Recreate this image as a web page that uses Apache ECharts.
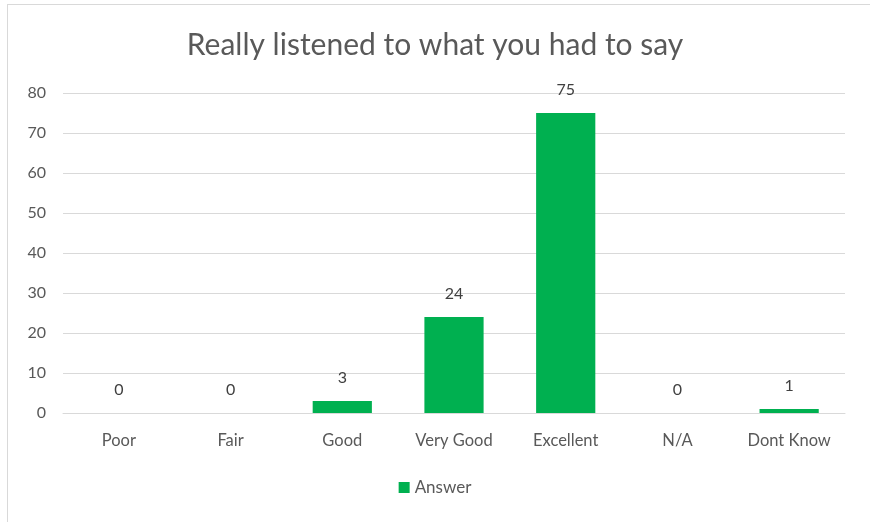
<!DOCTYPE html>
<html>
<head>
<meta charset="utf-8">
<script src="https://cdn.jsdelivr.net/npm/echarts@6/dist/echarts.min.js"></script>
<style>
html,body{margin:0;padding:0;background:#fff;}
#frame{position:absolute;left:7px;top:4px;width:880px;height:540px;border:1px solid #d9d9d9;box-sizing:border-box;}
#chart{position:absolute;left:0;top:0;width:870px;height:522px;}
</style>
</head>
<body>
<div id="frame"></div>
<div id="chart"></div>
<script>
// 数据
var categories = ['Poor', 'Fair', 'Good', 'Very Good', 'Excellent', 'N/A', 'Dont Know'];
var answerValues = [0, 0, 3, 24, 75, 0, 1];
var yTicks = [0, 10, 20, 30, 40, 50, 60, 70, 80];

var chart = echarts.init(document.getElementById('chart'));
chart.setOption({
  animation: false,
  textStyle: { fontFamily: 'Lato', color: '#595959' },
  title: {
    text: 'Really listened to what you had to say',
    left: 'center',
    top: 25,
    textStyle: { fontFamily: 'Lato', fontSize: 30, fontWeight: 'normal', color: '#595959' }
  },
  grid: { left: 63, right: 25, top: 93, bottom: 109 },
  legend: {
    bottom: 21,
    left: 'center',
    icon: 'rect',
    itemWidth: 11,
    itemHeight: 11,
    itemGap: 6,
    textStyle: { fontFamily: 'Lato', fontSize: 17, color: '#595959' },
    data: ['Answer']
  },
  xAxis: {
    type: 'category',
    data: categories,
    axisLine: { lineStyle: { color: '#d9d9d9' } },
    axisTick: { show: false },
    axisLabel: { fontSize: 16.5, color: '#595959', margin: 19 }
  },
  yAxis: {
    type: 'value',
    min: yTicks[0],
    max: yTicks[yTicks.length - 1],
    interval: 10,
    axisLine: { show: false },
    axisTick: { show: false },
    axisLabel: { fontSize: 16, color: '#595959', margin: 17 },
    splitLine: { lineStyle: { color: '#d9d9d9' } }
  },
  series: [{
    name: 'Answer',
    type: 'bar',
    data: answerValues,
    barCategoryGap: '47%',
    itemStyle: { color: '#00b050' },
    label: {
      show: true,
      position: 'top',
      distance: 15,
      fontSize: 16,
      color: '#404040',
      fontFamily: 'Lato'
    }
  }]
});
</script>
</body>
</html>
